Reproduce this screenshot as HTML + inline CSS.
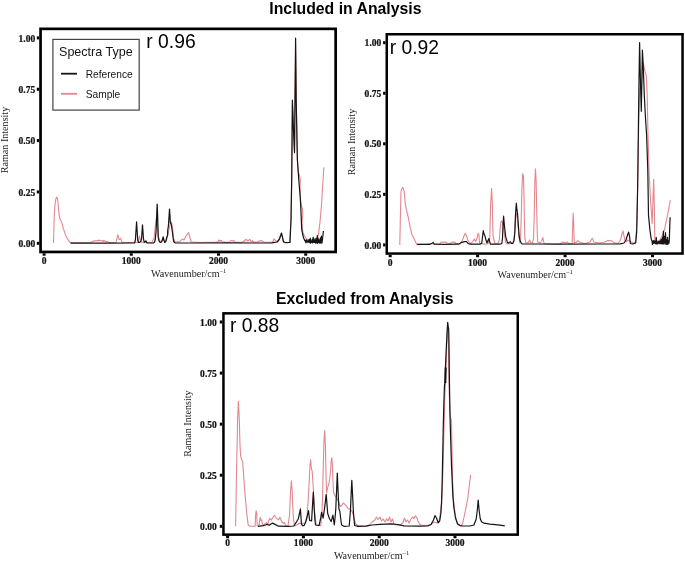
<!DOCTYPE html>
<html><head><meta charset="utf-8"><title>Raman spectra</title>
<style>
html,body{margin:0;padding:0;background:#fff;overflow:hidden;}
svg{display:block;will-change:transform}
.tk{font-family:"Liberation Serif",serif;font-weight:bold;font-size:10.6px;fill:#111;stroke:#111;stroke-width:0.25px}
.ax{font-family:"Liberation Serif",serif;font-size:10.1px;fill:#222}
.ttl{font-family:"Liberation Sans",sans-serif;font-weight:bold;font-size:16px;fill:#000}
.rv{font-family:"Liberation Sans",sans-serif;font-size:20.2px;fill:#000}
.lg{font-family:"Liberation Sans",sans-serif;fill:#141414}
</style></head><body>
<svg width="685" height="563" viewBox="0 0 685 563">
<rect width="685" height="563" fill="#fff"/>

<text x="345.4" y="13.7" class="ttl" text-anchor="middle" textLength="152.2" lengthAdjust="spacingAndGlyphs">Included in Analysis</text>
<text x="364.8" y="303.6" class="ttl" text-anchor="middle" textLength="177.5" lengthAdjust="spacingAndGlyphs">Excluded from Analysis</text>
<rect x="40.55" y="28.85" width="295.1" height="223.1" fill="none" stroke="#000" stroke-width="2.7"/>
<rect x="36.80" y="241.80" width="2.4" height="3.0" fill="#000"/>
<text transform="translate(35.2,246.90) scale(0.9,1)" class="tk" text-anchor="end">0.00</text>
<rect x="36.80" y="190.45" width="2.4" height="3.0" fill="#000"/>
<text transform="translate(35.2,195.55) scale(0.9,1)" class="tk" text-anchor="end">0.25</text>
<rect x="36.80" y="139.10" width="2.4" height="3.0" fill="#000"/>
<text transform="translate(35.2,144.20) scale(0.9,1)" class="tk" text-anchor="end">0.50</text>
<rect x="36.80" y="87.75" width="2.4" height="3.0" fill="#000"/>
<text transform="translate(35.2,92.85) scale(0.9,1)" class="tk" text-anchor="end">0.75</text>
<rect x="36.80" y="36.40" width="2.4" height="3.0" fill="#000"/>
<text transform="translate(35.2,41.50) scale(0.9,1)" class="tk" text-anchor="end">1.00</text>
<rect x="42.60" y="253.30" width="3.0" height="2.4" fill="#000"/>
<text transform="translate(44.10,264.3) scale(0.9,1)" class="tk" text-anchor="middle">0</text>
<rect x="129.80" y="253.30" width="3.0" height="2.4" fill="#000"/>
<text transform="translate(131.30,264.3) scale(0.9,1)" class="tk" text-anchor="middle">1000</text>
<rect x="217.00" y="253.30" width="3.0" height="2.4" fill="#000"/>
<text transform="translate(218.50,264.3) scale(0.9,1)" class="tk" text-anchor="middle">2000</text>
<rect x="304.20" y="253.30" width="3.0" height="2.4" fill="#000"/>
<text transform="translate(305.70,264.3) scale(0.9,1)" class="tk" text-anchor="middle">3000</text>
<text class="ax" transform="translate(8.1,140) rotate(-90)" text-anchor="middle">Raman Intensity</text>
<text class="ax" x="151" y="276.6">Wavenumber/cm<tspan font-size="6.6px" dy="-4.1">–1</tspan></text>
<polyline points="53.5,243.1 54.0,225.0 54.3,215.0 55.0,204.9 55.8,199.0 56.7,197.0 57.5,199.0 57.9,201.9 58.4,207.0 58.9,212.8 59.9,218.8 61.0,221.0 61.9,222.8 63.4,228.7 65.4,234.7 67.9,239.7 70.3,242.6 80.0,242.8 89.0,242.6 90.0,242.4 90.7,242.2 91.5,241.9 92.0,242.1 92.8,241.8 93.4,240.9 94.1,240.9 94.8,241.0 95.3,240.9 96.2,240.9 97.0,240.6 97.5,240.4 98.3,241.1 98.8,240.1 99.4,240.4 100.3,240.4 101.2,241.0 102.0,241.0 102.9,240.4 103.4,241.6 104.0,240.5 104.7,241.1 105.3,241.4 105.9,241.7 106.7,241.6 107.5,241.9 108.4,242.1 110.0,242.5 116.0,242.2 117.9,234.7 119.2,239.8 120.8,238.4 122.0,242.4 130.0,242.6 138.0,242.3 139.5,236.0 140.8,242.0 144.0,242.5 152.0,242.6 154.0,238.0 155.4,226.0 156.3,218.0 157.2,222.0 158.3,236.0 160.0,242.3 162.2,240.0 163.4,237.4 164.6,241.5 166.5,240.0 168.5,232.0 170.2,224.0 171.4,221.8 172.5,228.0 173.5,238.0 175.0,242.0 180.0,241.5 182.2,239.0 184.0,240.0 186.0,236.0 188.6,232.6 190.0,238.0 191.3,242.0 200.0,242.5 210.0,242.2 216.5,242.3 217.1,241.9 218.0,241.7 218.7,240.0 219.2,240.4 220.0,241.4 220.6,240.2 221.3,240.6 221.9,241.5 222.4,241.7 226.0,242.4 229.5,242.3 230.2,241.5 230.7,240.7 231.6,240.4 232.1,240.6 232.8,241.1 233.7,240.4 234.2,241.1 234.9,242.2 240.0,242.2 242.0,242.3 242.8,241.6 243.7,240.9 244.6,241.5 245.3,239.6 246.0,239.4 246.6,240.2 247.1,240.0 247.9,241.2 248.5,240.6 249.3,239.5 249.9,239.6 250.4,240.2 251.0,241.5 251.8,241.4 252.4,240.7 253.3,241.9 257.0,242.3 257.8,241.6 258.4,241.8 259.2,240.9 260.0,240.9 260.8,241.1 261.7,240.5 262.3,241.1 263.1,241.8 263.8,242.1 271.5,242.3 272.4,241.6 273.2,241.3 273.8,238.8 274.4,239.5 275.0,240.0 275.7,240.8 276.6,241.4 277.2,241.8 277.8,242.0 279.0,240.0 280.0,236.5 281.2,234.0 282.3,236.0 283.7,242.5 289.6,242.4 291.0,220.0 291.7,180.0 292.4,105.0 293.5,130.0 294.5,150.0 295.0,100.0 295.6,45.0 296.2,100.0 297.4,160.0 298.4,172.0 299.6,176.0 300.3,180.0 300.0,186.0 300.4,198.0 301.3,205.0 302.4,209.0 302.8,214.0 302.0,222.0 302.4,229.0 303.4,234.0 304.8,236.5 306.0,238.0 307.6,240.0 310.0,242.3 314.0,242.5 317.0,240.0 318.5,234.0 320.0,222.0 321.5,205.0 322.7,185.0 323.9,167.2" fill="none" stroke="#e3878f" stroke-width="1.1" stroke-linejoin="round"/>
<polyline points="70.5,243.2 90.0,243.1 110.0,243.2 130.0,243.0 134.6,243.0 135.4,240.0 135.9,232.0 136.6,221.8 137.2,232.0 137.7,240.0 138.5,242.5 139.6,242.3 140.8,241.5 141.5,239.0 142.0,232.0 142.5,224.9 143.0,232.0 143.5,239.0 144.3,242.3 145.3,241.5 146.0,240.8 146.8,242.8 153.5,243.0 154.6,242.0 155.3,239.2 156.0,232.0 156.4,224.5 156.8,212.0 157.2,204.1 157.6,214.0 157.9,224.5 158.2,236.8 159.0,240.9 160.2,242.5 161.5,242.0 162.5,239.5 163.1,236.8 163.8,240.0 164.7,242.5 165.8,241.5 166.8,237.0 167.6,235.2 167.7,230.3 168.4,226.0 169.0,217.0 169.5,209.0 170.0,216.0 170.3,222.9 170.8,223.2 171.1,223.7 171.8,228.0 172.5,232.7 173.1,238.0 173.7,241.7 175.0,242.8 200.0,243.0 230.0,242.9 260.0,243.0 272.0,242.8 277.0,242.0 279.5,239.0 281.5,233.0 283.4,241.5 285.0,242.6 290.0,242.4 291.0,220.0 291.7,180.0 292.4,100.0 293.5,130.0 294.5,152.6 295.0,100.0 295.6,38.1 296.2,100.0 297.4,160.0 298.8,180.0 300.3,198.0 301.0,212.0 301.7,229.3 302.6,234.0 303.4,237.3 304.8,240.9 305.5,240.5 305.9,242.9 306.2,239.7 306.7,242.2 307.2,241.5 307.7,242.2 308.1,240.1 308.8,242.3 309.2,239.4 309.9,242.9 310.3,238.2 310.7,243.2 311.1,241.1 311.5,242.5 312.2,239.3 312.7,242.9 313.2,237.4 313.5,242.2 313.9,238.5 314.4,242.5 315.0,240.0 315.4,243.1 316.0,238.3 316.6,242.8 317.3,235.6 317.7,243.4 318.1,238.0 318.7,242.3 319.2,239.9 319.8,243.1 320.4,237.9 320.8,243.0 321.4,236.2 321.9,243.2 322.6,238.5 323.4,231.0" fill="none" stroke="#151515" stroke-width="1.2" stroke-linejoin="round"/>
<rect x="52.9" y="39.4" width="86.3" height="70.7" fill="#fff" stroke="#444" stroke-width="1.2"/>
<text class="lg" transform="translate(59.0,56.0) scale(1.03,1)" font-size="12.2px">Spectra Type</text>
<line x1="61" y1="73.7" x2="77" y2="73.7" stroke="#151515" stroke-width="1.8"/>
<text class="lg" x="85.7" y="77.8" font-size="10.2px">Reference</text>
<line x1="61" y1="93.8" x2="77" y2="93.8" stroke="#e3878f" stroke-width="1.8"/>
<text class="lg" x="85.7" y="97.9" font-size="10.2px">Sample</text>
<text class="rv" transform="translate(146.3,47.8) scale(0.955,1)">r 0.96</text>
<rect x="386.75" y="34.25" width="295.8" height="219.3" fill="none" stroke="#000" stroke-width="2.5"/>
<rect x="383.10" y="243.40" width="2.4" height="3.0" fill="#000"/>
<text transform="translate(381.3,248.50) scale(0.9,1)" class="tk" text-anchor="end">0.00</text>
<rect x="383.10" y="192.85" width="2.4" height="3.0" fill="#000"/>
<text transform="translate(381.3,197.95) scale(0.9,1)" class="tk" text-anchor="end">0.25</text>
<rect x="383.10" y="142.30" width="2.4" height="3.0" fill="#000"/>
<text transform="translate(381.3,147.40) scale(0.9,1)" class="tk" text-anchor="end">0.50</text>
<rect x="383.10" y="91.75" width="2.4" height="3.0" fill="#000"/>
<text transform="translate(381.3,96.85) scale(0.9,1)" class="tk" text-anchor="end">0.75</text>
<rect x="383.10" y="41.20" width="2.4" height="3.0" fill="#000"/>
<text transform="translate(381.3,46.30) scale(0.9,1)" class="tk" text-anchor="end">1.00</text>
<rect x="388.70" y="254.80" width="3.0" height="2.4" fill="#000"/>
<text transform="translate(390.20,265.9) scale(0.9,1)" class="tk" text-anchor="middle">0</text>
<rect x="476.10" y="254.80" width="3.0" height="2.4" fill="#000"/>
<text transform="translate(477.60,265.9) scale(0.9,1)" class="tk" text-anchor="middle">1000</text>
<rect x="563.60" y="254.80" width="3.0" height="2.4" fill="#000"/>
<text transform="translate(565.10,265.9) scale(0.9,1)" class="tk" text-anchor="middle">2000</text>
<rect x="651.00" y="254.80" width="3.0" height="2.4" fill="#000"/>
<text transform="translate(652.50,265.9) scale(0.9,1)" class="tk" text-anchor="middle">3000</text>
<text class="ax" transform="translate(355,142) rotate(-90)" text-anchor="middle">Raman Intensity</text>
<text class="ax" x="497.5" y="278.4">Wavenumber/cm<tspan font-size="6.6px" dy="-4.1">–1</tspan></text>
<polyline points="399.8,245.0 400.4,216.3 401.0,192.1 401.8,188.5 402.9,187.3 404.1,190.9 404.7,197.0 405.3,204.2 406.5,210.2 408.3,217.5 410.1,227.2 411.9,234.4 414.3,239.2 416.8,244.4 425.0,244.2 433.0,243.5 440.0,244.0 441.0,242.0 443.0,242.5 445.0,241.8 447.0,243.0 450.0,243.5 452.0,242.3 454.5,242.0 456.0,243.5 460.0,244.2 462.5,240.0 464.0,236.0 465.3,233.2 466.6,236.0 467.8,240.0 468.9,242.4 471.0,243.5 473.0,241.0 474.3,239.0 475.5,241.5 476.5,240.0 477.5,236.0 478.3,233.2 479.0,236.0 479.6,243.0 484.0,244.1 488.0,243.8 489.8,238.0 490.6,205.0 491.6,188.2 492.4,205.0 493.0,236.0 494.0,240.0 495.0,243.8 498.0,243.5 499.3,240.0 500.2,228.0 500.9,222.0 502.0,220.9 503.0,225.0 504.2,232.0 505.5,242.0 507.0,244.0 510.0,243.5 513.0,243.0 514.3,238.0 515.2,222.0 516.0,213.5 516.8,214.0 517.6,222.0 518.6,232.0 519.3,238.0 519.8,243.0 520.6,236.7 521.3,215.0 521.9,190.0 522.5,176.0 522.9,173.6 523.4,176.0 524.0,195.0 524.5,225.0 524.8,236.7 525.6,242.5 527.0,243.0 528.5,242.5 529.6,239.9 530.5,242.5 532.6,243.0 533.6,238.0 534.3,210.0 534.9,180.0 535.5,168.8 536.1,180.0 536.7,210.0 537.3,235.0 537.8,242.0 540.0,243.0 541.8,241.0 542.8,237.5 543.8,242.0 544.0,243.5 550.0,244.0 560.0,243.8 563.0,242.0 565.0,242.8 567.0,242.0 569.0,243.5 572.2,243.5 572.7,225.0 573.2,213.1 573.7,225.0 574.3,243.0 576.0,242.5 578.0,240.6 580.0,242.6 586.0,243.5 590.0,242.0 592.2,238.3 594.0,242.0 600.0,243.0 605.0,242.0 608.0,240.6 611.7,240.8 614.0,242.8 618.0,243.5 620.5,240.0 622.0,234.0 623.0,230.9 624.0,236.0 625.0,240.0 626.0,242.0 628.0,240.0 630.0,241.5 633.0,243.0 635.5,242.0 636.8,225.0 637.8,180.0 638.8,120.0 639.7,90.0 640.6,80.0 641.5,85.0 642.4,70.0 643.3,62.5 644.2,68.0 645.2,72.0 646.3,75.8 647.2,95.0 648.0,135.0 649.0,170.0 650.5,200.0 652.2,223.6 652.9,200.0 653.7,179.4 654.3,205.0 654.8,238.5 656.0,242.0 660.0,240.0 662.0,236.0 664.4,230.0 666.5,220.0 668.5,210.0 670.3,200.2" fill="none" stroke="#e3878f" stroke-width="1.1" stroke-linejoin="round"/>
<polyline points="417.1,244.4 430.0,244.3 432.5,243.0 433.2,242.5 434.2,244.2 445.0,244.3 458.0,244.2 460.0,243.3 462.0,242.3 464.7,241.7 466.5,241.5 468.0,243.5 470.0,244.1 480.0,244.2 481.8,243.0 482.6,236.0 483.3,230.5 484.0,234.0 484.9,235.8 486.0,240.0 487.0,243.0 488.2,240.0 489.0,238.5 489.7,242.0 490.5,244.2 500.0,244.2 501.8,243.5 502.5,238.0 503.0,226.0 503.6,216.1 504.1,222.0 504.6,227.3 505.7,236.9 507.3,242.2 508.5,243.2 509.4,242.2 510.5,241.8 511.5,243.5 512.8,243.3 513.9,241.0 514.9,232.0 515.5,215.0 516.3,203.2 516.9,209.0 517.6,214.3 518.4,226.0 519.2,236.7 520.0,240.5 520.8,242.3 522.0,243.8 535.0,244.0 560.0,244.1 600.0,244.0 620.0,243.8 624.0,243.0 626.0,240.0 627.5,235.0 628.6,232.1 629.5,236.0 630.4,243.5 633.0,244.0 635.7,243.0 636.7,232.0 637.6,190.0 638.3,135.0 639.0,80.0 639.6,42.5 640.4,80.0 641.3,111.3 641.9,80.0 642.4,50.1 643.2,65.0 644.3,95.0 645.5,118.0 646.6,135.0 647.8,170.0 648.5,215.4 649.9,229.6 651.3,239.5 652.0,241.0 652.5,244.3 653.1,240.8 653.6,243.3 654.1,240.4 654.8,243.2 655.2,241.3 655.9,244.0 656.2,237.4 656.9,244.0 657.5,242.0 657.8,243.8 658.2,241.9 658.6,243.1 659.1,241.1 659.8,243.8 660.3,240.9 660.9,243.7 661.3,239.1 662.1,244.2 662.7,236.9 663.1,243.5 663.4,231.2 663.9,244.2 664.4,236.3 665.1,243.1 665.5,232.5 666.0,244.4 666.5,239.8 667.0,244.1 667.5,237.4 667.9,244.4 668.6,240.7 669.0,243.2 669.3,239.8 670.1,217.2" fill="none" stroke="#151515" stroke-width="1.2" stroke-linejoin="round"/>
<text class="rv" transform="translate(389.7,54) scale(0.955,1)">r 0.92</text>
<rect x="223.45" y="313.35" width="294.3" height="221.3" fill="none" stroke="#000" stroke-width="2.5"/>
<rect x="219.80" y="524.80" width="2.4" height="3.0" fill="#000"/>
<text transform="translate(216.8,529.90) scale(0.9,1)" class="tk" text-anchor="end">0.00</text>
<rect x="219.80" y="473.70" width="2.4" height="3.0" fill="#000"/>
<text transform="translate(216.8,478.80) scale(0.9,1)" class="tk" text-anchor="end">0.25</text>
<rect x="219.80" y="422.65" width="2.4" height="3.0" fill="#000"/>
<text transform="translate(216.8,427.75) scale(0.9,1)" class="tk" text-anchor="end">0.50</text>
<rect x="219.80" y="371.60" width="2.4" height="3.0" fill="#000"/>
<text transform="translate(216.8,376.70) scale(0.9,1)" class="tk" text-anchor="end">0.75</text>
<rect x="219.80" y="320.50" width="2.4" height="3.0" fill="#000"/>
<text transform="translate(216.8,325.60) scale(0.9,1)" class="tk" text-anchor="end">1.00</text>
<rect x="226.10" y="535.90" width="3.0" height="2.4" fill="#000"/>
<text transform="translate(227.60,546.4) scale(0.9,1)" class="tk" text-anchor="middle">0</text>
<rect x="301.90" y="535.90" width="3.0" height="2.4" fill="#000"/>
<text transform="translate(303.40,546.4) scale(0.9,1)" class="tk" text-anchor="middle">1000</text>
<rect x="377.70" y="535.90" width="3.0" height="2.4" fill="#000"/>
<text transform="translate(379.20,546.4) scale(0.9,1)" class="tk" text-anchor="middle">2000</text>
<rect x="453.50" y="535.90" width="3.0" height="2.4" fill="#000"/>
<text transform="translate(455.00,546.4) scale(0.9,1)" class="tk" text-anchor="middle">3000</text>
<text class="ax" transform="translate(191.3,423.6) rotate(-90)" text-anchor="middle">Raman Intensity</text>
<text class="ax" x="333.9" y="559.1">Wavenumber/cm<tspan font-size="6.6px" dy="-4.1">–1</tspan></text>
<polyline points="235.6,526.3 236.6,470.0 237.6,420.0 238.4,401.4 239.3,420.0 240.0,445.0 240.6,455.6 241.5,459.0 242.7,462.0 243.8,478.0 245.2,496.0 246.6,512.0 248.2,525.0 250.0,526.3 255.2,526.2 255.6,515.0 256.2,510.7 256.8,515.0 257.2,526.0 258.8,526.4 259.6,521.0 260.2,517.3 261.0,520.5 261.7,520.0 262.8,525.7 264.5,524.5 266.4,522.7 267.5,525.0 268.6,521.0 269.7,518.4 271.2,520.2 272.8,517.5 274.5,515.4 275.5,517.0 276.6,518.4 278.5,519.8 279.9,517.3 281.0,520.0 282.1,522.0 283.6,523.5 284.3,522.5 285.8,525.7 288.0,526.0 289.5,515.0 290.5,492.0 291.4,480.9 292.2,492.0 293.2,515.0 294.4,526.0 296.7,525.0 299.5,523.3 303.0,523.6 305.2,522.5 307.0,517.0 308.2,500.0 309.4,478.0 310.0,465.0 310.6,459.8 311.3,468.0 312.2,471.3 313.3,488.0 314.5,511.0 316.2,525.0 320.8,525.8 322.0,512.0 322.5,499.6 323.2,470.0 324.0,440.0 324.7,430.6 325.4,445.0 326.0,475.0 326.6,492.7 327.8,487.0 328.9,484.0 329.8,478.0 330.6,470.8 331.2,461.0 331.8,457.7 332.4,465.0 332.9,480.0 333.5,492.0 334.7,495.0 336.0,497.5 337.5,499.6 339.0,503.0 340.4,506.5 342.0,505.0 343.3,503.0 344.8,504.3 346.5,506.0 348.1,508.6 350.0,509.0 352.4,511.9 354.0,518.0 355.7,524.0 358.0,525.5 366.0,526.0 370.0,524.5 372.0,522.0 374.8,520.0 376.5,517.0 378.0,519.5 380.0,517.0 381.5,521.0 383.0,519.0 385.0,522.0 386.5,518.7 388.0,521.0 389.5,517.0 391.0,522.0 392.5,519.0 393.8,523.8 396.0,525.0 400.0,525.5 403.3,522.0 404.5,518.0 406.0,522.0 407.5,520.0 409.0,523.0 411.0,519.0 412.5,517.0 414.0,518.5 415.5,515.8 417.0,518.0 418.0,521.0 419.3,523.8 421.0,525.0 426.0,525.5 431.0,524.5 434.0,522.0 437.0,523.0 439.0,521.0 440.2,514.0 441.0,507.6 442.3,490.0 443.0,470.0 443.6,445.0 444.2,420.0 444.8,398.0 445.5,380.0 446.2,362.0 446.8,345.0 447.3,332.0 447.8,326.0 448.2,332.0 448.5,345.0 448.8,370.0 449.3,395.0 449.9,412.0 450.6,418.7 451.2,419.0 451.6,425.0 452.0,450.0 452.6,480.0 453.5,500.0 455.2,514.8 456.6,521.0 458.0,524.0 460.4,526.0 462.5,524.0 464.7,514.0 466.5,505.0 468.0,496.8 469.5,484.0 470.6,475.0" fill="none" stroke="#e3878f" stroke-width="1.1" stroke-linejoin="round"/>
<polyline points="258.0,526.4 263.1,525.7 265.5,525.0 267.2,524.2 269.3,525.2 271.0,524.0 272.6,523.1 275.5,524.6 278.5,526.2 288.0,526.3 293.8,526.0 296.0,522.7 298.2,519.0 299.4,514.0 300.4,508.8 300.9,516.0 301.4,524.0 302.5,525.6 304.1,525.6 305.8,522.0 307.0,517.0 308.5,510.6 309.6,520.4 311.6,521.0 312.4,507.0 313.3,492.1 314.2,508.8 315.0,521.0 315.6,525.0 319.1,525.5 320.5,519.0 321.6,512.3 323.1,518.1 324.6,508.0 326.2,494.4 327.7,513.5 329.5,518.7 331.2,521.5 332.9,515.2 334.3,525.0 335.3,515.0 335.8,508.8 336.6,490.0 337.3,473.1 338.0,490.0 338.9,508.8 339.8,511.2 341.0,521.0 341.6,525.0 344.0,526.3 349.2,526.0 350.5,510.0 351.2,493.0 351.8,480.4 352.5,493.0 353.4,512.0 354.6,525.5 358.0,526.3 366.0,526.2 372.0,525.0 380.0,524.3 390.9,523.8 398.0,524.5 404.0,525.8 420.0,526.2 428.0,526.0 431.0,524.5 433.5,520.0 435.0,515.5 436.5,518.0 438.2,522.8 439.7,521.0 440.8,514.0 441.6,503.0 442.2,480.0 442.7,455.0 443.2,430.0 443.8,405.0 444.5,385.0 445.2,382.0 445.4,368.0 446.2,350.0 446.9,335.0 447.7,322.3 448.3,327.0 448.7,329.0 449.0,345.0 449.4,380.0 450.0,415.0 450.7,440.0 451.5,465.0 452.8,495.0 453.9,507.6 455.5,518.0 457.6,524.0 460.0,525.6 462.5,526.0 470.0,526.0 474.0,525.0 476.2,519.0 477.3,510.0 478.2,500.0 479.1,510.0 480.2,518.5 481.5,521.7 484.0,523.2 490.0,524.2 500.0,525.2 504.8,525.8" fill="none" stroke="#151515" stroke-width="1.2" stroke-linejoin="round"/>
<line x1="445.7" y1="367.5" x2="445.3" y2="383" stroke="#111" stroke-width="2"/>
<text class="rv" transform="translate(230,331.8) scale(0.955,1)">r 0.88</text>
</svg>
</body></html>
